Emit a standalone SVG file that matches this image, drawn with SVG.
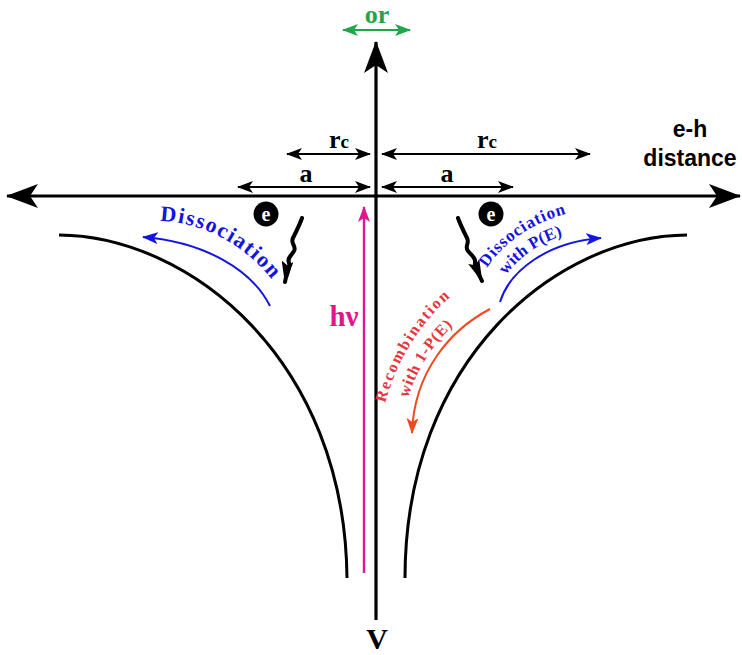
<svg xmlns="http://www.w3.org/2000/svg" width="742" height="655" viewBox="0 0 742 655">
<style>
  .serif { font-family: "Liberation Serif", "Times New Roman", serif; font-weight: bold; }
  .sans { font-family: "Liberation Sans", Arial, sans-serif; font-weight: bold; }
  .axis { stroke: #000; stroke-width: 3.2; fill: none; }
  .dim { stroke: #000; stroke-width: 2.2; fill: none; }
  .curve { stroke: #000; stroke-width: 3; fill: none; }
  .blue { stroke: #1414e0; stroke-width: 2; fill: none; }
  .red { stroke: #f04a1e; stroke-width: 2; fill: none; }
  .mag { stroke: #e0168c; stroke-width: 2.4; fill: none; }
  .green { stroke: #1fa54a; stroke-width: 2.2; fill: none; }
  .squig { stroke: #000; stroke-width: 4; fill: none; stroke-linejoin: round; stroke-linecap: round; }
</style>
<defs>
  <marker id="bigHead" viewBox="0 0 32 24" refX="31" refY="12" markerWidth="32" markerHeight="24" markerUnits="userSpaceOnUse" orient="auto-start-reverse">
    <path d="M0,0 L32,12 L0,24 L8,12 Z" fill="#000"/>
  </marker>
  <marker id="smallHead" viewBox="0 0 16 12" refX="15" refY="6" markerWidth="16" markerHeight="12" markerUnits="userSpaceOnUse" orient="auto-start-reverse">
    <path d="M0,0 L16,6 L0,12 L4,6 Z" fill="#000"/>
  </marker>
  <marker id="squigHead" viewBox="0 0 22 12" refX="21" refY="6" markerWidth="22" markerHeight="12" markerUnits="userSpaceOnUse" orient="auto">
    <path d="M0,0 L22,6 L0,12 L4,6 Z" fill="#000"/>
  </marker>
  <marker id="blueHead" viewBox="0 0 16 12" refX="15" refY="6" markerWidth="16" markerHeight="12" markerUnits="userSpaceOnUse" orient="auto">
    <path d="M0,0 L16,6 L0,12 L4,6 Z" fill="#1414e0"/>
  </marker>
  <marker id="redHead" viewBox="0 0 16 12" refX="15" refY="6" markerWidth="16" markerHeight="12" markerUnits="userSpaceOnUse" orient="auto">
    <path d="M0,0 L16,6 L0,12 L4,6 Z" fill="#f04a1e"/>
  </marker>
  <marker id="magHead" viewBox="0 0 16 12" refX="15" refY="6" markerWidth="16" markerHeight="12" markerUnits="userSpaceOnUse" orient="auto">
    <path d="M0,0 L16,6 L0,12 L4,6 Z" fill="#e0168c"/>
  </marker>
  <marker id="greenHead" viewBox="0 0 16 12" refX="15" refY="6" markerWidth="16" markerHeight="12" markerUnits="userSpaceOnUse" orient="auto-start-reverse">
    <path d="M0,0 L16,6 L0,12 L4,6 Z" fill="#1fa54a"/>
  </marker>
  <path id="tpLeft" d="M160,221 C205,222 252,248 281,292"/>
  <path id="tpRight1" d="M487,268 C505,240 537,220 574,212"/>
  <path id="tpRight2" d="M506,275 C520,256 543,240 570,234"/>
  <path id="tpRed1" d="M385,403 C397,360 422,318 459,290"/>
  <path id="tpRed2" d="M408,398 C418,366 435,340 461,319"/>
</defs>

<g id="connectors">
  <path class="axis" d="M7,196 L740,196" marker-start="url(#bigHead)" marker-end="url(#bigHead)"/>
  <path class="axis" d="M376,620 L376,42" marker-end="url(#bigHead)"/>
  <path class="dim" d="M287,154 L370,154" marker-start="url(#smallHead)" marker-end="url(#smallHead)"/>
  <path class="dim" d="M382,154 L590,154" marker-start="url(#smallHead)" marker-end="url(#smallHead)"/>
  <path class="dim" d="M238,187 L370,187" marker-start="url(#smallHead)" marker-end="url(#smallHead)"/>
  <path class="dim" d="M382,187 L513,187" marker-start="url(#smallHead)" marker-end="url(#smallHead)"/>
  <path class="green" d="M343,30 L410,30" marker-start="url(#greenHead)" marker-end="url(#greenHead)"/>
  <path class="mag" d="M364,573 L364,207" marker-end="url(#magHead)"/>
  <path class="blue" d="M270,306 C252,270 205,242 143,237" marker-end="url(#blueHead)"/>
  <path class="blue" d="M500,302 C510,270 548,242 601,238" marker-end="url(#blueHead)"/>
  <path class="red" d="M490,309 C450,330 414,372 412,433" marker-end="url(#redHead)"/>
  <path class="squig" d="M302,218 C300,224 296,232 293,238 C290,244 297,246 294,251 C291,256 287,258 289,263 C291,268 286,274 285,282" marker-end="url(#squigHead)"/>
  <path class="squig" d="M458,218 C460,224 464,232 467,238 C470,244 464,246 468,251 C472,256 476,258 475,263 C474,268 479,274 482,281" marker-end="url(#squigHead)"/>
</g>

<g id="potential-left">
  <path class="curve" d="M59,235 C190,236 345,360 347,578"/>
</g>
<g id="potential-right">
  <path class="curve" d="M687,235 C556,236 405,360 405,578"/>
</g>

<g id="label-or"><text class="serif" x="377" y="23" font-size="26" fill="#1fa54a" text-anchor="middle">or</text></g>
<g id="label-V"><text class="serif" x="377" y="649" font-size="30" fill="#000" text-anchor="middle">V</text></g>
<g id="label-eh"><text class="sans" x="690" y="137" font-size="23" fill="#000" text-anchor="middle">e-h</text>
  <text class="sans" x="690" y="166" font-size="23" fill="#000" text-anchor="middle">distance</text></g>
<g id="label-rc-left"><text class="serif" x="329" y="148" font-size="26" fill="#000">r<tspan font-size="19">c</tspan></text></g>
<g id="label-rc-right"><text class="serif" x="477" y="148" font-size="26" fill="#000">r<tspan font-size="19">c</tspan></text></g>
<g id="label-a-left"><text class="serif" x="306" y="182" font-size="26" fill="#000" text-anchor="middle">a</text></g>
<g id="label-a-right"><text class="serif" x="447" y="182" font-size="26" fill="#000" text-anchor="middle">a</text></g>
<g id="label-hv"><text class="serif" x="344" y="326" font-size="29" fill="#e0168c" text-anchor="middle">hν</text></g>

<g id="electron-left">
  <circle cx="266" cy="214" r="12.5" fill="#000"/>
  <text class="serif" x="266" y="221" font-size="20" fill="#fff" text-anchor="middle">e</text>
</g>
<g id="electron-right">
  <circle cx="491" cy="214" r="12.5" fill="#000"/>
  <text class="serif" x="491" y="221" font-size="20" fill="#fff" text-anchor="middle">e</text>
</g>

<g id="label-dissociation-left">
  <text class="serif" font-size="22" fill="#1414e0"><textPath href="#tpLeft" textLength="130" lengthAdjust="spacing">Dissociation</textPath></text>
</g>
<g id="label-dissociation-right">
  <text class="serif" font-size="17" fill="#1414e0"><textPath href="#tpRight1" textLength="98" lengthAdjust="spacing">Dissociation</textPath></text>
  <text class="serif" font-size="17" fill="#1414e0"><textPath href="#tpRight2" textLength="70" lengthAdjust="spacing">with P(E)</textPath></text>
</g>
<g id="label-recombination">
  <text class="serif" font-size="16" fill="#e8343c"><textPath href="#tpRed1" textLength="126" lengthAdjust="spacing">Recombination</textPath></text>
  <text class="serif" font-size="16" fill="#e8343c"><textPath href="#tpRed2" textLength="86" lengthAdjust="spacing">with 1-P(E)</textPath></text>
</g>
</svg>
